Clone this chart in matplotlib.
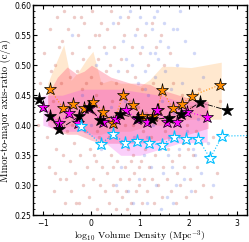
import matplotlib
matplotlib.use('Agg')
import matplotlib.pyplot as plt
from matplotlib.ticker import FormatStrFormatter, AutoMinorLocator

plt.rcParams['mathtext.fontset'] = 'cm'
plt.rcParams['axes.formatter.use_mathtext'] = True

# background galaxies (red / blue clouds)
red_x = [-1.05, -0.98, -0.92, -0.88, -0.85, -0.8, -0.78, -0.75, -0.72, -0.7, -0.68, -0.65, -0.62, -0.6, -0.58,
         -0.55, -0.53, -0.5, -0.95, -1.1, -0.83, -0.66, -0.57, -0.74, -0.52,
         -0.48, -0.45, -0.44, -0.42, -0.4, -0.38, -0.36, -0.35, -0.33, -0.3, -0.28, -0.27, -0.25, -0.23, -0.2,
         -0.18, -0.17, -0.15, -0.13, -0.1, -0.08, -0.06, -0.05, -0.03, 0.0, 0.02, 0.03, 0.05, 0.07, 0.09, 0.1,
         0.12, 0.14, 0.15, 0.17, 0.19, 0.2, 0.22, 0.24, 0.25, 0.27, 0.28, 0.3, -0.41, -0.22, -0.12, 0.06, 0.16,
         -0.32, 0.11,
         0.32, 0.33, 0.35, 0.36, 0.38, 0.4, 0.41, 0.43, 0.45, 0.46, 0.48, 0.5, 0.51, 0.53, 0.55, 0.56, 0.58, 0.6,
         0.61, 0.63, 0.65, 0.66, 0.68, 0.7, 0.71, 0.73, 0.75, 0.76, 0.78, 0.8, 0.81, 0.83, 0.85, 0.86, 0.88, 0.9,
         0.91, 0.93, 0.95, 0.96, 0.98, 1.0, 1.01, 1.03, 1.05, 1.06, 1.08, 1.1, 1.11, 1.13, 1.15, 1.16, 1.18, 0.37,
         0.52, 0.67, 0.82, 0.97, 0.44, 0.74,
         1.22, 1.24, 1.26, 1.28, 1.3, 1.33, 1.35, 1.37, 1.4, 1.42, 1.45, 1.47, 1.5, 1.52, 1.55, 1.57, 1.6, 1.63,
         1.65, 1.68, 1.7, 1.73, 1.75, 1.78, 1.8, 1.83, 1.86, 1.88, 1.91, 1.94, 1.96, 1.99, 1.25, 1.44, 1.62,
         2.02, 2.05, 2.08, 2.12, 2.15, 2.18, 2.22, 2.26, 2.3, 2.35, 2.4, 2.45, 2.5, 2.58, 2.65]
red_y = [0.47, 0.52, 0.38, 0.33, 0.56, 0.44, 0.29, 0.50, 0.36, 0.58, 0.41, 0.31, 0.47, 0.54, 0.35,
         0.27, 0.43, 0.39, 0.43, 0.40, 0.49, 0.53, 0.59, 0.32, 0.31,
         0.56, 0.48, 0.34, 0.29, 0.52, 0.44, 0.58, 0.37, 0.32, 0.49, 0.55, 0.41, 0.27, 0.35, 0.46,
         0.51, 0.30, 0.57, 0.39, 0.33, 0.44, 0.53, 0.28, 0.36, 0.48, 0.59, 0.31, 0.42, 0.55, 0.34, 0.45,
         0.26, 0.51, 0.38, 0.30, 0.47, 0.57, 0.33, 0.43, 0.53, 0.29, 0.37, 0.49, 0.40, 0.58, 0.47, 0.35, 0.55,
         0.27, 0.39,
         0.56, 0.32, 0.41, 0.27, 0.50, 0.35, 0.59, 0.44, 0.30, 0.53, 0.38, 0.47, 0.26, 0.34, 0.57, 0.42, 0.31, 0.51,
         0.37, 0.28, 0.45, 0.55, 0.33, 0.40, 0.29, 0.49, 0.36, 0.58, 0.31, 0.44, 0.27, 0.53, 0.35, 0.40, 0.32, 0.48,
         0.29, 0.56, 0.37, 0.43, 0.30, 0.52, 0.34, 0.27, 0.46, 0.39, 0.31, 0.55, 0.36, 0.42, 0.29, 0.50, 0.33, 0.38,
         0.29, 0.37, 0.34, 0.33, 0.33, 0.26,
         0.38, 0.31, 0.47, 0.27, 0.35, 0.53, 0.41, 0.30, 0.37, 0.45, 0.28, 0.33, 0.50, 0.39, 0.31, 0.36, 0.43, 0.29,
         0.34, 0.47, 0.38, 0.27, 0.32, 0.41, 0.35, 0.30, 0.45, 0.37, 0.33, 0.28, 0.40, 0.36, 0.57, 0.55, 0.52,
         0.31, 0.43, 0.35, 0.29, 0.39, 0.33, 0.46, 0.37, 0.30, 0.41, 0.34, 0.28, 0.38, 0.32, 0.44]
blue_x = [0.3, 0.45, 0.55, 0.6, 0.65, 0.7, 0.75, 0.8, 0.84, 0.88, 0.9, 0.95, 0.98, 1.0, 1.03, 1.05, 1.08, 1.1,
          1.12, 1.14, 1.17, 1.2, 1.22, 1.25, 1.27, 1.3, 1.32, 1.35, 1.37, 1.4, 1.42, 1.45, 1.48, 1.5, 1.52, 1.55,
          1.58, 1.6, 1.63, 1.65, 1.68, 1.7, 1.73, 1.76, 1.8, 1.83, 1.86, 1.9, 1.93, 1.97, 2.0, 2.05, 2.1, 2.14,
          2.2, 2.25, 2.3, 2.4, 2.5, 0.2, 0.4, 0.5, 0.58, 0.72, 0.86, 0.93, 1.15, 1.28, 1.43, 1.57, 1.67, 1.88,
          2.08, -0.2, 0.1, 0.0, -0.4, 1.75, 1.3, 1.1]
blue_y = [0.52, 0.57, 0.49, 0.33, 0.54, 0.44, 0.29, 0.59, 0.50, 0.38, 0.55, 0.47, 0.31, 0.58, 0.42, 0.53, 0.35, 0.49,
          0.57, 0.27, 0.45, 0.52, 0.33, 0.56, 0.40, 0.48, 0.30, 0.59, 0.51, 0.36, 0.54, 0.44, 0.32, 0.57, 0.49, 0.28,
          0.53, 0.38, 0.46, 0.33, 0.56, 0.42, 0.30, 0.50, 0.36, 0.59, 0.47, 0.31, 0.54, 0.39, 0.45, 0.29, 0.52, 0.35,
          0.41, 0.32, 0.48, 0.37, 0.30, 0.36, 0.43, 0.30, 0.58, 0.51, 0.27, 0.41, 0.38, 0.58, 0.26, 0.35, 0.27, 0.42,
          0.36, 0.45, 0.50, 0.40, 0.55, 0.56, 0.52, 0.46]

# shaded ranges
orange_band_x = [-0.9, -0.75, -0.57, -0.42, -0.26, -0.1, 0.03, 0.2, 0.4, 0.6, 0.8, 1.0, 1.2, 1.45, 1.65, 2.05, 2.67]
orange_band_hi = [0.47, 0.50, 0.534, 0.475, 0.49, 0.51, 0.523, 0.47, 0.475, 0.47, 0.47, 0.465, 0.476, 0.498, 0.498,
                  0.496, 0.505]
orange_band_lo = [0.41, 0.40, 0.395, 0.40, 0.395, 0.39, 0.385, 0.385, 0.39, 0.39, 0.39, 0.395, 0.40, 0.40, 0.405,
                  0.41, 0.41]
pink_band_x = [-0.9, -0.7, -0.5, -0.3, -0.15, 0.0, 0.2, 0.4, 0.6, 0.8, 1.0, 1.2, 1.4, 1.6, 1.8, 2.0, 2.2, 2.4]
pink_band_hi = [0.45, 0.48, 0.497, 0.485, 0.49, 0.50, 0.49, 0.48, 0.475, 0.47, 0.47, 0.468, 0.46, 0.455, 0.45,
                0.445, 0.44, 0.44]
pink_band_lo = [0.40, 0.39, 0.385, 0.385, 0.38, 0.375, 0.37, 0.37, 0.37, 0.37, 0.37, 0.372, 0.375, 0.378, 0.38,
                0.385, 0.39, 0.395]
mag_band_x = [-1.0, -0.6, -0.2, 0.3, 0.6, 1.0, 1.4, 1.8, 2.38]
mag_band_hi = [0.45, 0.45, 0.46, 0.46, 0.46, 0.455, 0.45, 0.44, 0.44]
mag_band_lo = [0.40, 0.39, 0.39, 0.37, 0.35, 0.35, 0.36, 0.37, 0.372]

# median trends
orange_x = [-0.85, -0.59, -0.37, -0.16, 0.04, 0.245, 0.45, 0.65, 0.85, 1.05, 1.26, 1.36, 1.46, 1.67, 1.87, 2.06, 2.64]
orange_y = [0.46, 0.429, 0.436, 0.428, 0.439, 0.422, 0.404, 0.450, 0.433, 0.415, 0.415, 0.426, 0.458, 0.428, 0.436,
            0.449, 0.467]
black_x = [-1.07, -0.86, -0.66, -0.25, -0.05, 0.18, 0.59, 0.95, 1.25, 1.6, 1.85, 2.23, 2.78]
black_y = [0.443, 0.415, 0.393, 0.415, 0.43, 0.409, 0.418, 0.412, 0.41, 0.412, 0.418, 0.438, 0.425]
mag_x = [-0.99, -0.66, -0.46, -0.27, -0.05, 0.24, 0.5, 0.72, 0.93, 1.14, 1.35, 1.55, 1.76, 1.97, 2.38]
mag_y = [0.431, 0.403, 0.421, 0.404, 0.429, 0.405, 0.41, 0.426, 0.41, 0.405, 0.426, 0.405, 0.405, 0.422, 0.414]
cyan_x = [-0.22, 0.19, 0.45, 0.70, 0.94, 1.19, 1.45, 1.69, 1.94, 2.20, 2.44, 2.69, 3.4]
cyan_y = [0.399, 0.369, 0.385, 0.370, 0.374, 0.370, 0.367, 0.381, 0.377, 0.377, 0.345, 0.382, 0.383]

fig = plt.figure(figsize=(2.49, 2.42), dpi=100)
ax = fig.add_axes([0.133, 0.11, 0.859, 0.869])

ax.fill_between(orange_band_x, orange_band_lo, orange_band_hi, color='#ffa640', alpha=0.25, lw=0)
ax.fill_between(pink_band_x, pink_band_lo, pink_band_hi, color='#ff5a78', alpha=0.35, lw=0)
ax.fill_between(mag_band_x, mag_band_lo, mag_band_hi, color='#ee40ee', alpha=0.25, lw=0)

ax.scatter(red_x, red_y, s=6, color='#c0392b', alpha=0.26, lw=0)
ax.scatter(blue_x, blue_y, s=6, color='#3050e0', alpha=0.22, lw=0)

ax.plot(orange_x, orange_y, ':', color='darkorange', lw=0.8, marker='*', ms=9.5,
        mfc='darkorange', mec='black', mew=0.5)
ax.plot(mag_x, mag_y, ':', color='magenta', lw=0.8, marker='*', ms=9.5,
        mfc='magenta', mec='black', mew=0.5)
ax.plot(black_x, black_y, '-.', color='black', lw=0.6, marker='*', ms=9.5,
        mfc='black', mec='black', mew=0.5)
ax.plot(cyan_x, cyan_y, ':', color='deepskyblue', lw=0.8, marker='*', ms=9.5,
        mfc='white', mec='deepskyblue', mew=0.8)

ax.set_xlim(-1.2, 3.2)
ax.set_ylim(0.25, 0.60)
ax.set_xticks([-1, 0, 1, 2, 3])
ax.yaxis.set_major_formatter(FormatStrFormatter('%.2f'))
ax.xaxis.set_minor_locator(AutoMinorLocator(5))
ax.yaxis.set_minor_locator(AutoMinorLocator(5))
ax.tick_params(which='both', direction='in', top=True, right=True, labelsize=5.5, pad=1.2)
ax.tick_params(which='major', length=3, width=0.8)
ax.tick_params(which='minor', length=1.5, width=0.6)
for sp in ax.spines.values():
    sp.set_linewidth(1.0)

ax.set_xlabel(r'$\log_{10}\,$Volume Density (Mpc$^{-3}$)', family='cmr10', fontsize=7)
ax.set_ylabel('Minor-to-major axis-ratio (c/a)', family='cmr10', fontsize=7.5)
ax.xaxis.set_label_coords(0.5, -0.06)
ax.yaxis.set_label_coords(-0.105, 0.5)

fig.savefig('out.png', dpi=100)
